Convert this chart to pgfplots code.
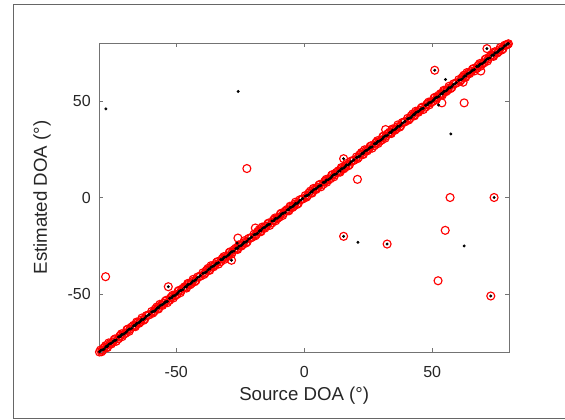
\documentclass[border=0pt]{standalone}
\usepackage{fontspec}
\setmainfont{Liberation Sans}
\usepackage{pgfplots}
\usepackage{pgfplotstable}
\pgfplotsset{compat=1.18}

% source DOA, red estimate, black estimate (along the diagonal)
\pgfplotstableread{
x r b
-80.0 -80.0 -79.9
-79.6 -79.0 -79.3
-78.7 -79.1 -78.9
-77.6 -76.7 -77.5
-76.9 -77.7 -77.1
-75.8 -75.6 -75.6
-74.7 -74.8 -74.7
-73.9 -73.2 -74.0
-72.6 -73.2 -72.2
-71.75 -71.35 -71.9
-71.15 -72.05 -70.95
-69.8 -70.3 -70.0
-68.9 -68.1 -68.6
-68.1 -68.3 -68.1
-66.7 -66.2 -66.5
-66.0 -66.9 -66.3
-65.2 -64.9 -65.1
-64.1 -64.5 -64.2
-63.4 -62.4 -63.1
-62.3 -63.0 -62.5
-61.0 -60.9 -61.0
-59.6 -59.0 -59.3
-58.7 -59.1 -58.9
-57.6 -56.7 -57.5
-56.9 -57.7 -57.1
-55.8 -55.6 -55.6
-54.7 -54.8 -54.7
-53.9 -53.2 -54.0
-52.6 -53.2 -52.2
-51.75 -51.35 -51.9
-51.15 -52.05 -50.95
-49.8 -50.3 -50.0
-48.9 -48.1 -48.6
-48.1 -48.3 -48.1
-46.7 -46.2 -46.5
-46.0 -46.9 -46.3
-45.2 -44.9 -45.1
-44.1 -44.5 -44.2
-43.4 -42.4 -43.1
-42.3 -43.0 -42.5
-41.0 -40.9 -41.0
-39.6 -39.0 -39.3
-38.7 -39.1 -38.9
-37.6 -36.7 -37.5
-36.9 -37.7 -37.1
-35.8 -35.6 -35.6
-34.7 -34.8 -34.7
-33.9 -33.2 -34.0
-32.6 -33.2 -32.2
-31.75 -31.35 -31.9
-31.15 -32.05 -30.95
-29.8 -30.3 -30.0
-28.9 -28.1 -28.6
-28.1 -28.3 -28.1
-26.7 -26.2 -26.5
-26.0 -26.9 -26.3
-25.2 -24.9 -25.1
-24.1 -24.5 -24.2
-23.4 -22.4 -23.1
-22.3 -23.0 -22.5
-21.0 -20.9 -21.0
-19.6 -19.0 -19.3
-18.7 -19.1 -18.9
-17.6 -16.7 -17.5
-16.9 -17.7 -17.1
-15.8 -15.6 -15.6
-14.7 -14.8 -14.7
-13.9 -13.2 -14.0
-12.6 -13.2 -12.2
-11.75 -11.35 -11.9
-11.15 -12.05 -10.95
-9.8 -10.3 -10.0
-8.9 -8.1 -8.6
-8.1 -8.3 -8.1
-6.7 -6.2 -6.5
-6.0 -6.9 -6.3
-5.2 -4.9 -5.1
-4.1 -4.5 -4.2
-3.4 -2.4 -3.1
-2.3 -3.0 -2.5
-1.0 -0.9 -1.0
0.4 1.0 0.7
1.3 0.9 1.1
2.4 3.3 2.5
3.1 2.3 2.9
4.2 4.4 4.4
5.3 5.2 5.3
6.1 6.8 6.0
7.4 6.8 7.8
8.25 8.65 8.1
8.85 7.95 9.05
10.2 9.7 10.0
11.1 11.9 11.4
11.9 11.7 11.9
13.3 13.8 13.5
14.0 13.1 13.7
14.8 15.1 14.9
15.9 15.5 15.8
16.6 17.6 16.9
17.7 17.0 17.5
19.0 19.1 19.0
20.4 21.0 20.7
21.3 20.9 21.1
22.4 23.3 22.5
23.1 22.3 22.9
24.2 24.4 24.4
25.3 25.2 25.3
26.1 26.8 26.0
27.4 26.8 27.8
28.25 28.65 28.1
28.85 27.95 29.05
30.2 29.7 30.0
31.1 31.9 31.4
31.9 31.7 31.9
33.3 33.8 33.5
34.0 33.1 33.7
34.8 35.1 34.9
35.9 35.5 35.8
36.6 37.6 36.9
37.7 37.0 37.5
39.0 39.1 39.0
40.4 41.0 40.7
41.3 40.9 41.1
42.4 43.3 42.5
43.1 42.3 42.9
44.2 44.4 44.4
45.3 45.2 45.3
46.1 46.8 46.0
47.4 46.8 47.8
48.25 48.65 48.1
48.85 47.95 49.05
50.2 49.7 50.0
51.1 51.9 51.4
51.9 51.7 51.9
53.3 53.8 53.5
54.0 53.1 53.7
54.8 55.1 54.9
55.9 55.5 55.8
56.6 57.6 56.9
57.7 57.0 57.5
59.0 59.1 59.0
60.4 61.0 60.7
61.3 60.9 61.1
62.4 63.3 62.5
63.1 62.3 62.9
64.2 64.4 64.4
65.3 65.2 65.3
66.1 66.8 66.0
67.4 66.8 67.8
68.25 68.65 68.1
68.85 67.95 69.05
70.2 69.7 70.0
71.1 71.9 71.4
71.9 71.7 71.9
73.3 73.8 73.5
74.0 73.1 73.7
74.8 75.1 74.9
75.9 75.5 75.8
76.6 77.6 76.9
77.7 77.0 77.5
79.0 79.1 79.0
79.8 79.6 79.7
}\diagA

\pgfplotstableread{
x r b
-79.15 -79.85 -79.05
-78.2 -77.7 -78.5
-77.25 -77.55 -77.05
-76.4 -75.3 -76.1
-75.35 -75.85 -75.45
-74.3 -73.7 -74.1
-73.45 -74.45 -73.75
-72.1 -71.8 -72.1
-71.4 -70.6 -71.1
-70.5 -70.9 -70.7
-69.3 -68.5 -69.4
-68.4 -69.3 -68.2
-67.4 -67.0 -67.7
-66.25 -66.55 -66.15
-65.5 -64.5 -65.2
-64.55 -65.15 -64.75
-63.65 -63.45 -63.55
-62.8 -63.6 -63.1
-61.7 -61.2 -61.5
-60.55 -60.75 -60.45
-59.15 -59.85 -59.05
-58.2 -57.7 -58.5
-57.25 -57.55 -57.05
-56.4 -55.3 -56.1
-55.35 -55.85 -55.45
-54.3 -53.7 -54.1
-53.45 -54.45 -53.75
-52.1 -51.8 -52.1
-51.4 -50.6 -51.1
-50.5 -50.9 -50.7
-49.3 -48.5 -49.4
-48.4 -49.3 -48.2
-47.4 -47.0 -47.7
-46.25 -46.55 -46.15
-45.5 -44.5 -45.2
-44.55 -45.15 -44.75
-43.65 -43.45 -43.55
-42.8 -43.6 -43.1
-41.7 -41.2 -41.5
-40.55 -40.75 -40.45
-39.15 -39.85 -39.05
-38.2 -37.7 -38.5
-37.25 -37.55 -37.05
-36.4 -35.3 -36.1
-35.35 -35.85 -35.45
-34.3 -33.7 -34.1
-33.45 -34.45 -33.75
-32.1 -31.8 -32.1
-31.4 -30.6 -31.1
-30.5 -30.9 -30.7
-29.3 -28.5 -29.4
-28.4 -29.3 -28.2
-27.4 -27.0 -27.7
-26.25 -26.55 -26.15
-25.5 -24.5 -25.2
-24.55 -25.15 -24.75
-23.65 -23.45 -23.55
-22.8 -23.6 -23.1
-21.7 -21.2 -21.5
-20.55 -20.75 -20.45
-19.15 -19.85 -19.05
-18.2 -17.7 -18.5
-17.25 -17.55 -17.05
-16.4 -15.3 -16.1
-15.35 -15.85 -15.45
-14.3 -13.7 -14.1
-13.45 -14.45 -13.75
-12.1 -11.8 -12.1
-11.4 -10.6 -11.1
-10.5 -10.9 -10.7
-9.3 -8.5 -9.4
-8.4 -9.3 -8.2
-7.4 -7.0 -7.7
-6.25 -6.55 -6.15
-5.5 -4.5 -5.2
-4.55 -5.15 -4.75
-3.65 -3.45 -3.55
-2.8 -3.6 -3.1
-1.7 -1.2 -1.5
-0.55 -0.75 -0.45
0.85 0.15 0.95
1.8 2.3 1.5
2.75 2.45 2.95
3.6 4.7 3.9
4.65 4.15 4.55
5.7 6.3 5.9
6.55 5.55 6.25
7.9 8.2 7.9
8.6 9.4 8.9
9.5 9.1 9.3
10.7 11.5 10.6
11.6 10.7 11.8
12.6 13.0 12.3
13.75 13.45 13.85
14.5 15.5 14.8
15.45 14.85 15.25
16.35 16.55 16.45
17.2 16.4 16.9
18.3 18.8 18.5
19.45 19.25 19.55
20.85 20.15 20.95
21.8 22.3 21.5
22.75 22.45 22.95
23.6 24.7 23.9
24.65 24.15 24.55
25.7 26.3 25.9
26.55 25.55 26.25
27.9 28.2 27.9
28.6 29.4 28.9
29.5 29.1 29.3
30.7 31.5 30.6
31.6 30.7 31.8
32.6 33.0 32.3
33.75 33.45 33.85
34.5 35.5 34.8
35.45 34.85 35.25
36.35 36.55 36.45
37.2 36.4 36.9
38.3 38.8 38.5
39.45 39.25 39.55
40.85 40.15 40.95
41.8 42.3 41.5
42.75 42.45 42.95
43.6 44.7 43.9
44.65 44.15 44.55
45.7 46.3 45.9
46.55 45.55 46.25
47.9 48.2 47.9
48.6 49.4 48.9
49.5 49.1 49.3
50.7 51.5 50.6
51.6 50.7 51.8
52.6 53.0 52.3
53.75 53.45 53.85
54.5 55.5 54.8
55.45 54.85 55.25
56.35 56.55 56.45
57.2 56.4 56.9
58.3 58.8 58.5
59.45 59.25 59.55
60.85 60.15 60.95
61.8 62.3 61.5
62.75 62.45 62.95
63.6 64.7 63.9
64.65 64.15 64.55
65.7 66.3 65.9
66.55 65.55 66.25
67.9 68.2 67.9
68.6 69.4 68.9
69.5 69.1 69.3
70.7 71.5 70.6
71.6 70.7 71.8
72.6 73.0 72.3
73.75 73.45 73.85
74.5 75.5 74.8
75.45 74.85 75.25
76.35 76.55 76.45
77.2 76.4 76.9
78.3 78.8 78.5
79.45 79.25 79.55
}\diagB

\begin{document}
\begin{tikzpicture}
\useasboundingbox (0,0) rectangle (423.75pt,314.25pt);
\begin{axis}[
    at={(74.6pt,50.25pt)}, anchor=south west,
    scale only axis,
    width=307.1pt, height=231.75pt,
    xmin=-80, xmax=80, ymin=-80, ymax=80,
    xtick={-50,0,50}, ytick={-50,0,50},
    tick align=inside,
    major tick length=3pt,
    axis line style={black!55},
    tick style={black!55},
    clip=false,
    /pgf/number format/assume math mode=true,
    ticklabel style={font=\fontsize{12}{14}\selectfont, text=black!85},
    xticklabel style={yshift=-7pt},
    yticklabel style={xshift=-3pt},
    label style={font=\fontsize{14}{16}\selectfont, text=black!85},
    xlabel={Source DOA (°)},
    ylabel={Estimated DOA (°)},
    xlabel style={at={(axis description cs:0.5,-0.1424)}, anchor=center},
    ylabel style={at={(axis description cs:-0.140,0.5)}, anchor=center},
    redo/.style={only marks, mark=o, mark size=3pt, red, mark options={line width=0.85pt}},
    blkdot/.style={only marks, mark=*, mark size=0.9pt, black},
]
% red circles
\addplot[redo] table[x=x, y=r] {\diagA};
\addplot[redo] table[x=x, y=r] {\diagB};
\addplot[redo] coordinates {
    (-77.6,-41.0) (-53.1,-46.2) (-22.4,15.0) (-25.9,-21.0) (-28.4,-32.5)
    (15.4,20.1) (20.8,9.4) (15.4,-20.1) (32.4,-24.1) (51.0,65.9)
    (53.8,49.0) (62.5,49.0) (55.1,-17.0) (52.3,-43.1) (72.9,-51.0)
    (57.0,0.0) (74.2,0.0) (71.4,77.1) (62.1,59.7) (69.0,65.5)
    (-19.1,-15.8) (31.8,35.2)
    };
% black dots
\addplot[blkdot] table[x=x, y=b] {\diagA};
\addplot[blkdot] table[x=x, y=b] {\diagB};
\addplot[blkdot] coordinates {
    (-77.5,45.9) (-25.8,54.9) (55.2,61.1) (57.3,32.9) (21.0,-23.2)
    (62.5,-25.1) (-53.1,-46.2) (15.4,20.1) (15.4,-20.1) (32.4,-24.1)
    (51.0,65.9) (52.5,47.9) (72.9,-51.0) (74.2,0.0) (71.4,77.1)
    (-28.4,-32.5) (-26.2,-23.6)
    };
\end{axis}
% figure frame
\draw[black!60, line width=0.75pt] (430pt,0.75pt) -- (9.75pt,0.75pt) -- (9.75pt,311.25pt) -- (430pt,311.25pt);
\end{tikzpicture}
\end{document}
